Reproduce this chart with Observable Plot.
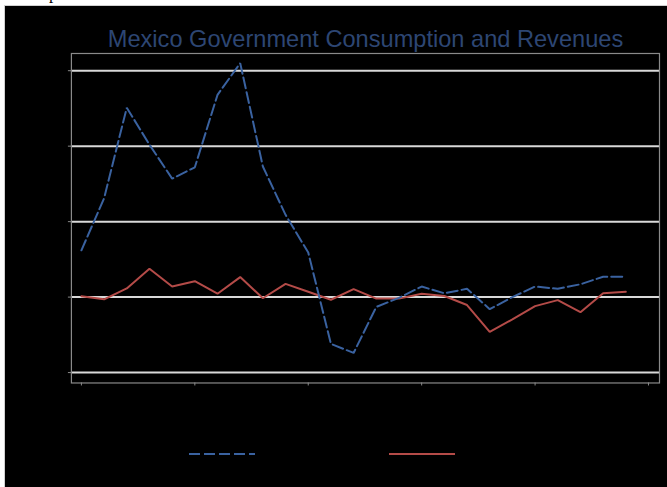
<!DOCTYPE html>
<html>
<head>
<meta charset="utf-8">
<script src="https://cdn.jsdelivr.net/npm/d3@7"></script>
<script src="https://cdn.jsdelivr.net/npm/@observablehq/plot@0.6"></script>
<style>
  html, body { margin: 0; padding: 0; background: #ffffff; width: 667px; height: 487px; overflow: hidden; }
  #stray { position: absolute; left: 49px; top: -15px; font: 17px "Liberation Serif", serif; line-height: 17px; color: #000; }
  #panel { position: absolute; left: 4px; top: 5px; width: 663px; height: 482px; background: #000; border-top: 1px solid #d0d0d0; border-left: 1px solid #d0d0d0; box-sizing: border-box; }
  #title { position: absolute; left: 0; top: 0; width: 663px; height: 47px; box-sizing: border-box; padding-left: 66px; padding-right: 8px; text-align: center; font: 23.6px "Liberation Sans", Arial, sans-serif; line-height: 24px; padding-top: 21px; color: #2d4673; white-space: nowrap; }
  #chart { position: absolute; left: -1px; top: 41px; }
  #legend { position: absolute; left: 0; top: 400px; width: 663px; height: 82px; font: 13px "Liberation Sans", Arial, sans-serif; color: #000; }
  .item { position: absolute; top: 40px; height: 16px; display: flex; align-items: center; }
  .item svg { display: block; }
  .item span { margin-left: 6px; }
</style>
</head>
<body>
<div id="stray">p</div>
<div id="panel">
  <div id="title">Mexico Government Consumption and Revenues</div>
  <div id="chart"></div>
  <div id="legend"></div>
</div>
<script>
// Data (percent change, index = period)
const periods = [0, 1, 2, 3, 4, 5, 6, 7, 8, 9, 10, 11, 12, 13, 14, 15, 16, 17, 18, 19, 20, 21, 22, 23, 24];
const consumption = [6.2, 13.1, 25.1, 20.2, 15.7, 17.2, 26.8, 31.0, 17.3, 10.9, 5.9, -6.2, -7.4, -1.3, -0.1, 1.4, 0.5, 1.1, -1.6, 0.0, 1.4, 1.1, 1.7, 2.7, 2.7];
const revenues = [0.1, -0.3, 1.15, 3.75, 1.4, 2.1, 0.45, 2.65, -0.15, 1.75, 0.7, -0.35, 1.05, -0.2, -0.2, 0.45, 0.15, -1.05, -4.6, -2.95, -1.2, -0.4, -2.0, 0.5, 0.7];
const seriesNames = ["Government Consumption", "Government Revenues"];
const seriesColors = ["#3a62a0", "#b44b48"];
const yTicks = [-10, 0, 10, 20, 30];
const xTicks = [0, 5, 10, 15, 20, 25];

const rows = periods.flatMap((p, i) => [
  {period: p, value: consumption[i], series: seriesNames[0]},
  {period: p, value: revenues[i], series: seriesNames[1]}
]);

const chart = Plot.plot({
  width: 664,
  height: 353,
  marginLeft: 67,
  marginRight: 8,
  marginTop: 6,
  marginBottom: 17,
  style: {background: "transparent", fontFamily: "Liberation Sans, Arial, sans-serif", fontSize: "12px"},
  x: {type: "linear", domain: [-0.441, 25.485]},
  y: {domain: [-11.38, 32.28]},
  marks: [
    Plot.gridY(yTicks, {stroke: "#d9d9d9", strokeOpacity: 1, strokeWidth: 2}),
    Plot.frame({stroke: "#8a8a8a", strokeWidth: 1.2}),
    Plot.axisY(yTicks, {tickSize: 3, stroke: "#8a8a8a", fill: "#000", label: null, tickPadding: 4}),
    Plot.axisX(xTicks, {tickSize: 3, stroke: "#8a8a8a", tickFormat: () => "", label: null}),
    Plot.line(rows.filter(d => d.series === seriesNames[1]), {x: "period", y: "value", stroke: seriesColors[1], strokeWidth: 2, strokeLinejoin: "miter"}),
    Plot.line(rows.filter(d => d.series === seriesNames[0]), {x: "period", y: "value", stroke: seriesColors[0], strokeWidth: 2, strokeDasharray: "11,4", strokeLinejoin: "miter"})
  ]
});
document.getElementById("chart").appendChild(chart);

// Legend
const legend = document.getElementById("legend");
const legendLeft = [184, 384];
seriesNames.forEach((name, i) => {
  const item = document.createElement("div");
  item.className = "item";
  item.style.left = legendLeft[i] + "px";
  const ns = "http://www.w3.org/2000/svg";
  const svg = document.createElementNS(ns, "svg");
  svg.setAttribute("width", "66");
  svg.setAttribute("height", "16");
  const ln = document.createElementNS(ns, "line");
  ln.setAttribute("x1", "0"); ln.setAttribute("x2", "66");
  ln.setAttribute("y1", "8"); ln.setAttribute("y2", "8");
  ln.setAttribute("stroke", seriesColors[i]);
  ln.setAttribute("stroke-width", "2");
  if (i === 0) ln.setAttribute("stroke-dasharray", "11,4");
  svg.appendChild(ln);
  item.appendChild(svg);
  const sp = document.createElement("span");
  sp.textContent = name;
  item.appendChild(sp);
  legend.appendChild(item);
});
</script>
</body>
</html>
